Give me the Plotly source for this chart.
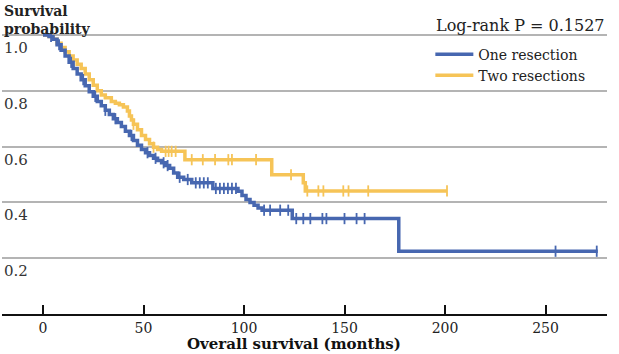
import numpy as np
import plotly.graph_objects as go

# ---- data ----
one_t = [0, 3, 5, 7, 9, 11, 13, 15, 17, 19, 21, 23, 25, 27, 29, 31, 33, 35, 37, 39,
         41, 43, 45, 47, 49, 51, 53, 55, 57, 59, 61, 63, 65, 67, 70, 74, 84.5, 97, 99,
         101, 103, 105, 107, 109, 124, 177, 276]
one_s = [1.0, 0.995, 0.985, 0.965, 0.945, 0.925, 0.902, 0.88, 0.86, 0.84, 0.818, 0.797,
         0.78, 0.762, 0.746, 0.73, 0.715, 0.70, 0.686, 0.672, 0.655, 0.64, 0.622, 0.605,
         0.59, 0.578, 0.568, 0.558, 0.55, 0.542, 0.532, 0.522, 0.505, 0.49, 0.482, 0.47,
         0.45, 0.44, 0.425, 0.41, 0.40, 0.39, 0.38, 0.372, 0.342, 0.225, 0.225]
one_cens = [4, 8, 14, 20, 26, 31, 36, 44, 52, 56, 60, 62, 68, 72, 76, 78, 80, 82, 86, 88,
            90, 92, 94, 96, 110, 113, 118, 122, 126, 129.5, 133, 139, 141, 150, 156, 160,
            255, 275.5]

two_t = [0, 3, 5, 7, 9, 11, 13, 15, 17, 19, 21, 23, 25, 27, 29, 31, 34, 36, 38, 40, 42,
         43, 44, 45, 47, 49, 51, 53, 55, 57, 59, 70.6, 113.8, 129.5, 130.5, 201]
two_s = [1.0, 0.995, 0.985, 0.97, 0.955, 0.94, 0.925, 0.91, 0.895, 0.88, 0.86, 0.84,
         0.82, 0.80, 0.785, 0.775, 0.762, 0.755, 0.75, 0.742, 0.728, 0.71, 0.695, 0.68,
         0.66, 0.64, 0.625, 0.61, 0.598, 0.59, 0.583, 0.553, 0.499, 0.47, 0.441, 0.441]
two_cens = [45, 55, 61, 62.5, 64, 66, 74, 79.5, 85.6, 92.2, 94, 106, 123.4, 131.5, 137,
            139.5, 149.4, 152, 161.8, 201]

x_ticks = [0, 50, 100, 150, 200, 250]
y_ticks = [0.2, 0.4, 0.6, 0.8, 1.0]
y_tick_text = ["0.2", "0.4", "0.6", "0.8", "1.0"]

BLUE = "#4767b0"
YELLOW = "#f6c457"
FONT = "DejaVu Serif"


def at(times, surv, c):
    times = np.asarray(times)
    idx = np.searchsorted(times, np.asarray(c), side="right") - 1
    return np.asarray(surv)[idx]


fig = go.Figure()
fig.add_trace(go.Scatter(x=two_t, y=two_s, mode="lines", line_shape="hv",
                         line=dict(color=YELLOW, width=3.5), name="Two resections",
                         legendrank=2))
fig.add_trace(go.Scatter(x=two_cens, y=at(two_t, two_s, two_cens), mode="markers",
                         marker=dict(symbol="line-ns", size=8,
                                     line=dict(color=YELLOW, width=1.8)),
                         showlegend=False, hoverinfo="skip"))
fig.add_trace(go.Scatter(x=one_t, y=one_s, mode="lines", line_shape="hv",
                         line=dict(color=BLUE, width=3.5), name="One resection",
                         legendrank=1))
fig.add_trace(go.Scatter(x=one_cens, y=at(one_t, one_s, one_cens), mode="markers",
                         marker=dict(symbol="line-ns", size=8,
                                     line=dict(color=BLUE, width=1.8)),
                         showlegend=False, hoverinfo="skip"))

annotations = [
    dict(text="<b>Survival<br>probability</b>", xref="paper", yref="paper",
         x=0, y=1.0574, xanchor="left", yanchor="top", align="left",
         showarrow=False, font=dict(family=FONT, size=14, color="#222")),
    dict(text="Log-rank P = 0.1527", xref="paper", yref="paper", x=1, y=0.973,
         xanchor="right", yanchor="middle", showarrow=False,
         font=dict(family=FONT, size=16, color="#222")),
    dict(text="<b>Overall survival (months)</b>", xref="paper", yref="paper",
         x=0.483, y=-0.1014, xanchor="center", yanchor="middle",
         showarrow=False, font=dict(family=FONT, size=15, color="#111")),
]
for v, t in zip(y_ticks, y_tick_text):
    annotations.append(dict(text=t, xref="paper", yref="y", x=0, y=v,
                            xanchor="left", yanchor="top", xshift=0, yshift=-2,
                            showarrow=False,
                            font=dict(family=FONT, size=15, color="#333")))

fig.update_layout(
    width=619, height=354,
    margin=dict(l=2, r=12, t=18, b=40),
    paper_bgcolor="white", plot_bgcolor="white",
    font=dict(family=FONT, size=15, color="#222"),
    xaxis=dict(range=[-20.4, 280.6], tickvals=x_ticks, ticks="inside", ticklen=9,
               tickwidth=1.5, tickcolor="#111", showline=True, linecolor="#111",
               linewidth=1.5, showgrid=False, zeroline=False,
               tickfont=dict(family=FONT, size=14, color="#222")),
    yaxis=dict(range=[0, 1.0609], tickvals=y_ticks, showticklabels=False,
               ticks="", showline=False, showgrid=True, gridcolor="#b4b4b4",
               gridwidth=1.5, zeroline=False),
    legend=dict(x=0.708, y=0.841, xanchor="left", yanchor="middle", itemwidth=38,
                tracegroupgap=0, traceorder="normal",
                bgcolor="rgba(0,0,0,0)", font=dict(family=FONT, size=14, color="#222")),
    annotations=annotations,
)

fig.write_html("out.html")
